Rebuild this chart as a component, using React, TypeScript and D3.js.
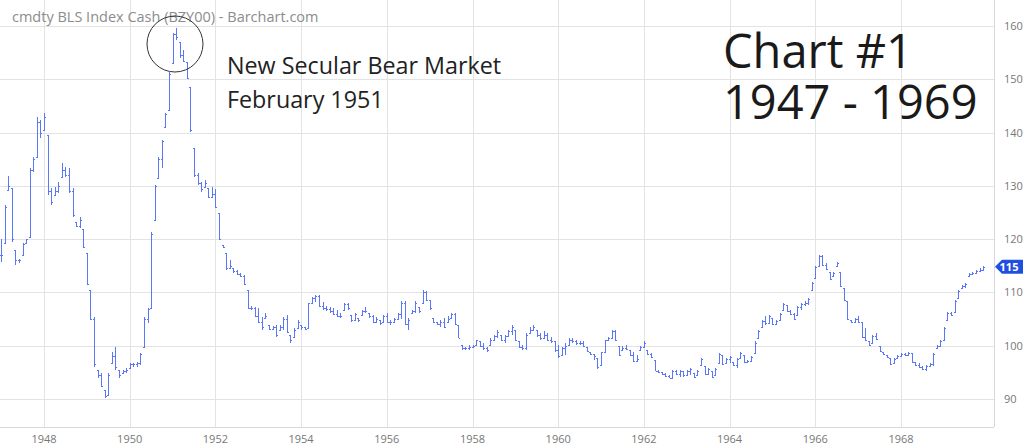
import React from 'react';
import * as d3 from 'd3';

const START_YEAR = 1947;
const yearTicks = [1948, 1950, 1952, 1954, 1956, 1958, 1960, 1962, 1964, 1966, 1968];
const priceTicks = [90, 100, 110, 120, 130, 140, 150, 160];

const titleText = 'cmdty BLS Index Cash (BZY00) - Barchart.com';
const noteLines = ['New Secular Bear Market', 'February 1951'];
const chartLines = ['Chart #1', '1947 - 1969'];

// monthly lows, Jan 1947 .. Dec 1969 (one row per year)
const lows = [
  115.8, 119.3, 129.2, 119.5, 115.2, 115.5, 117, 119.3, 120.4, 132.6, 135.4, 139,
  140.5, 128.3, 126.4, 128.3, 128.7, 131.7, 131.7, 128.7, 124.2, 122.3, 122.1, 118.3,
  111.4, 104.8, 96, 94, 92.3, 90.2, 90.8, 96.8, 95.5, 94, 94.9, 94.9,
  95.8, 96, 96, 96.4, 99.8, 104.3, 107.1, 123.6, 131.5, 133.4, 141.1, 144.2,
  153.1, 157.4, 154, 153.2, 150, 140.1, 131.7, 130.2, 128.9, 129.8, 127.7, 128,
  125.9, 119.9, 118.3, 114.2, 114.6, 113.7, 113.3, 112.9, 111.4, 106.9, 106.7, 105.4,
  104.3, 103, 105.2, 103, 103, 101.7, 103, 103, 102.4, 100.5, 101.7, 103.3,
  103, 103, 103.3, 108, 108.2, 107.3, 106.7, 106.6, 106.2, 105.8, 105.4, 105.2,
  106.7, 106.7, 104.5, 104.9, 104.5, 105.8, 106.2, 105.2, 104.3, 104.5, 103.9, 104.5,
  104.3, 103.9, 104.5, 105.1, 105, 103.8, 103, 106.1, 106.1, 106.1, 108, 108.3,
  106.7, 104.2, 103.9, 103.6, 103.3, 104.5, 105.2, 103.9, 101.4, 99.2, 99.2, 99.2,
  99.5, 100.2, 99.8, 99.2, 98.9, 100.2, 100.8, 101.4, 100.8, 100.5, 101.7, 102,
  100.8, 99.5, 99.2, 99.2, 102.4, 103, 101.7, 101.1, 101.4, 100.8, 100.5, 98.9,
  97.7, 98.3, 98.3, 100.2, 100.5, 100.2, 100.2, 99.8, 98.9, 98.3, 97.3, 95.6,
  96.4, 98.9, 101.1, 101.4, 100.8, 98, 99.2, 99.2, 98, 97, 97, 99.2,
  99.5, 98.3, 97.7, 95.2, 94.9, 94.5, 94.2, 93.9, 93.9, 94.5, 94.2, 94.2,
  94.5, 94.5, 93.9, 94.5, 96.4, 94.5, 94.5, 93.9, 94.5, 96.7, 96.4, 96.7,
  96.7, 96.1, 95.8, 97.7, 96.7, 96.7, 97, 98.6, 101.4, 103.6, 103.9, 104.2,
  103.9, 103.9, 104.9, 106.7, 106.4, 105.8, 104.9, 105.8, 106.7, 107.4, 107.7, 110.5,
  112.7, 114.9, 114.9, 114.2, 112.3, 113, 114.9, 111.1, 108.3, 104.9, 104.2, 104.5,
  104.2, 101.4, 100.8, 99.9, 100.5, 101.1, 98.9, 98.3, 97.7, 96.4, 96.7, 97.7,
  98, 98, 98.3, 96.7, 96.1, 95.8, 95.5, 95.2, 96.1, 96.1, 99.5, 99.9,
  101.1, 104.9, 105.5, 106.4, 108.9, 110.8, 110.8, 113, 113.3, 113.6, 113.9, 114.2,
];

// monthly highs
const highs = [
  120, 126.4, 131.9, 129.6, 118, 116.3, 119.3, 120, 133.4, 135.4, 142.9, 142.4,
  143.7, 139.5, 129.6, 129.8, 130.7, 134.3, 133.5, 133.4, 129.6, 123.2, 124.2, 121.9,
  117.4, 110.5, 105.4, 95.5, 94.9, 91.7, 94.9, 98.8, 99.8, 95.5, 95.5, 95.8,
  96.8, 96.8, 97, 98.6, 105.4, 107, 121.3, 130.2, 135.4, 138.6, 143.7, 151.4,
  158.7, 159.6, 157, 155.5, 153.2, 148.6, 137.1, 132.4, 130.7, 131.1, 129.6, 129.8,
  129.5, 124.9, 118.9, 117.4, 116.1, 114.6, 114.2, 113.7, 113.3, 110.5, 107.5, 107.3,
  107.1, 105.4, 106.2, 103.9, 103.7, 103.9, 103.9, 105.4, 105.8, 102, 103.3, 104.8,
  103.9, 103.5, 108, 109.2, 109.6, 109.6, 108.2, 107.5, 107.3, 107.1, 106.7, 106.2,
  108, 108, 105.8, 106.2, 105.2, 106.7, 107.3, 106.2, 105.8, 105.4, 104.8, 105.8,
  106.2, 104.8, 105.2, 106.1, 108.3, 108.3, 105.2, 106.7, 108.3, 107.3, 110.5, 110.2,
  108.6, 105.2, 104.5, 104.9, 105.2, 105.5, 106.1, 106.1, 103.9, 100.2, 99.8, 100.2,
  100.2, 101.1, 100.8, 100.5, 99.8, 101.4, 102, 103, 102, 102, 103, 103.9,
  103, 100.8, 100.2, 102.4, 103.6, 103.9, 103, 102.4, 102.7, 102.4, 101.7, 100.8,
  100.2, 99.8, 100.5, 101.4, 101.4, 101.1, 100.8, 100.8, 99.8, 98.9, 98.5, 97.7,
  98.9, 101.1, 101.7, 103, 103, 99.9, 99.9, 100.2, 99.2, 98.9, 98.3, 99.9,
  100.8, 99.2, 98.6, 97.4, 95.5, 95, 94.9, 94.5, 95.5, 95.5, 95.5, 95.2,
  95.5, 95.8, 94.9, 95.5, 97.7, 96.1, 95.8, 95.2, 95.8, 98.6, 98.3, 97.7,
  98, 97, 97.7, 98.9, 98.3, 97.4, 98, 100.8, 103, 104.9, 105.5, 105.8,
  105.2, 104.9, 106.1, 108, 107.7, 106.7, 106.1, 107.4, 108, 108.3, 108.9, 112,
  114.9, 117, 117, 115.5, 113.9, 113.9, 115.8, 113.9, 110.8, 108.3, 104.9, 105.2,
  105.5, 104.5, 103.3, 100.8, 102, 102.4, 99.9, 98.9, 98.3, 97.7, 97.7, 98.3,
  98.6, 98.6, 98.9, 98.6, 97, 96.7, 96.1, 96.4, 96.7, 98.6, 100.2, 101.1,
  103.6, 106.4, 106.4, 108.6, 110.5, 111.4, 111.7, 113.6, 113.9, 114.2, 114.5, 114.9,
];

// monthly closes
const closes = [
  117, 126, 130, 120, 116, 116, 119, 120, 133, 135, 142, 140,
  143, 129, 127, 129, 130, 133, 132, 129, 124.5, 122.5, 123.5, 118.5,
  111.5, 105, 96.5, 94.5, 92.5, 90.5, 94.5, 98, 96, 94.5, 95.3, 95.5,
  96.5, 96.5, 96.8, 98.4, 105, 106.8, 121, 130, 135, 138.4, 143.5, 151,
  158.5, 158, 154.5, 153.5, 150.3, 140.5, 132, 130.5, 129.5, 130.5, 128, 128.5,
  126, 120, 118.5, 114.5, 115, 114, 113.5, 113, 111.5, 107, 107, 105.5,
  104.5, 103.5, 105.5, 103.2, 103.5, 102, 103.5, 105, 102.5, 101, 103, 104.5,
  103.5, 103.2, 108, 109, 109.3, 107.5, 107, 106.8, 106.5, 106, 105.6, 105.5,
  107.8, 107, 104.8, 106, 104.8, 106.5, 106.5, 105.5, 104.5, 105, 104.2, 105.5,
  104.5, 104.5, 105, 106, 108, 104, 104.8, 106.5, 108, 106.5, 110, 108.5,
  107, 104.5, 104, 104.5, 103.5, 105, 106, 104, 101.5, 99.5, 99.5, 99.8,
  100, 101, 100, 99.5, 99.2, 101, 101.8, 102.5, 101, 101.8, 102.8, 103.5,
  101, 99.8, 99.5, 102, 103, 103.5, 102, 101.5, 102, 101, 100.8, 99.2,
  98, 99.5, 100, 101, 100.8, 100.5, 100.5, 100, 99, 98.5, 98, 96,
  98.8, 101, 101.5, 102.8, 101, 98.2, 99.5, 99.4, 98.2, 97.2, 97.5, 99.8,
  100.5, 98.5, 97.8, 95.3, 95, 94.7, 94.4, 94, 95.3, 94.7, 95.2, 94.5,
  95.3, 95.6, 94.1, 95.3, 97.5, 94.7, 95.6, 94.1, 95.7, 98.4, 96.6, 97.5,
  97.8, 96.3, 97.5, 98.7, 96.9, 97.2, 97.8, 100.6, 102.8, 104.7, 104.2, 105.6,
  104.1, 104.7, 105.9, 107.8, 106.6, 106, 105.1, 107.2, 107.8, 108.1, 108.7, 111.8,
  114.7, 116.8, 115.2, 114.4, 112.5, 113.7, 115.6, 111.3, 108.5, 105.1, 104.4, 105,
  104.4, 101.6, 101, 100.1, 101.8, 101.3, 99.1, 98.5, 97.9, 96.6, 97.5, 98.1,
  98.4, 98.2, 98.7, 96.9, 96.3, 96, 95.7, 96.2, 96.5, 98.4, 100, 100.9,
  103.4, 106.2, 105.7, 108.4, 110.3, 111.2, 111.5, 113.4, 113.7, 114, 114.3, 114.8,
];

const W = 1024;
const H = 448;
const PLOT_R = 994;
const PLOT_B = 427;
const BAR_COLOR = '#5a78f5';
const GRID = '#e3e3e3';
const FONT = '"Open Sans", "Noto Sans", sans-serif';

export default function App() {
  const x = d3.scaleLinear().domain([1948, 1968]).range([44, 901]);
  const y = d3.scaleLinear().domain([90, 160]).range([399, 26]);
  const crisp = (v: number) => Math.round(v) + 0.5;

  const bars = closes.map((c, i) => {
    const t = START_YEAR + i / 12;
    const lo = lows[i];
    const hi = highs[i];
    const prev = i === 0 ? c : closes[i - 1];
    const open = Math.min(hi, Math.max(lo, prev));
    return { px: crisp(x(t)), lo, hi, open, close: Math.min(hi, Math.max(lo, c)) };
  });

  const last = closes[closes.length - 1];
  const tagY = y(last);

  return (
    <svg
      width={W}
      height={H}
      style={{ position: 'absolute', left: 0, top: 0, background: '#fff' }}
      fontFamily={FONT}
    >
      <rect x={0} y={0} width={W} height={H} fill="#fff" />
      {/* grid */}
      {priceTicks.map((v) => (
        <line key={'h' + v} x1={0} x2={PLOT_R} y1={crisp(y(v))} y2={crisp(y(v))} stroke={GRID} />
      ))}
      {yearTicks.map((yr) => (
        <line key={'v' + yr} x1={crisp(x(yr))} x2={crisp(x(yr))} y1={0} y2={PLOT_B} stroke={GRID} />
      ))}
      <line x1={crisp(PLOT_R)} x2={crisp(PLOT_R)} y1={0} y2={PLOT_B} stroke="#d8d8d8" />
      <line x1={0} x2={PLOT_R} y1={crisp(PLOT_B)} y2={crisp(PLOT_B)} stroke="#d8d8d8" />

      {/* axis labels */}
      {priceTicks.map((v) => (
        <text key={'yl' + v} x={1004} y={y(v) + 4} fontSize={11} fill="#777">
          {v}
        </text>
      ))}
      {yearTicks.map((yr) => (
        <text key={'xl' + yr} x={x(yr)} y={443} fontSize={11} fill="#777" textAnchor="middle">
          {yr}
        </text>
      ))}

      {/* title */}
      <text x={12} y={22} fontSize={14.5} fill="#8c8c8c">
        {titleText}
      </text>

      {/* OHLC bars */}
      <g stroke={BAR_COLOR} strokeWidth={1} shapeRendering="crispEdges">
        {bars.map((b, i) => (
          <g key={i}>
            <line x1={b.px} x2={b.px} y1={y(b.hi)} y2={y(b.lo)} />
            <line x1={b.px - 1.5} x2={b.px} y1={crisp(y(b.open))} y2={crisp(y(b.open))} />
            <line x1={b.px} x2={b.px + 1.5} y1={crisp(y(b.close))} y2={crisp(y(b.close))} />
          </g>
        ))}
      </g>

      {/* last price tag */}
      <path
        d={`M${PLOT_R + 1},${tagY} L${PLOT_R + 8},${tagY - 7} L${W - 1},${tagY - 7} L${W - 1},${tagY + 7} L${PLOT_R + 8},${tagY + 7} Z`}
        fill="#1f4fe0"
      />
      <text x={1009} y={tagY + 4} fontSize={11} fontWeight="bold" fill="#fff" textAnchor="middle">
        {Math.round(last)}
      </text>

      {/* annotation */}
      <circle cx={175} cy={44} r={28} fill="none" stroke="#333" strokeWidth={1} />
      <text x={227} y={74} fontSize={23.3} fill="#222">
        {noteLines[0]}
      </text>
      <text x={227} y={108} fontSize={23.3} fill="#222">
        {noteLines[1]}
      </text>
      <text x={723} y={68} fontSize={47} fill="#1a1a1a">
        {chartLines[0]}
      </text>
      <text x={723} y={119} fontSize={47} fill="#1a1a1a">
        {chartLines[1]}
      </text>
    </svg>
  );
}
